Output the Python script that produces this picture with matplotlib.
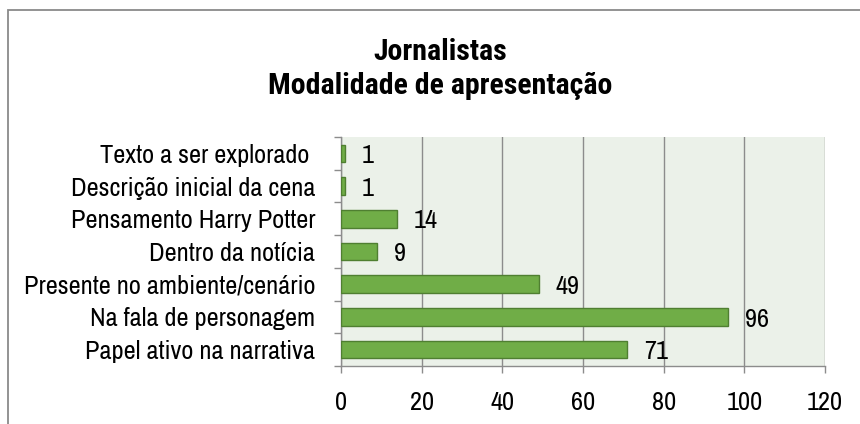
import matplotlib
matplotlib.use("Agg")
import matplotlib.pyplot as plt
from matplotlib import font_manager
from matplotlib.patches import Rectangle

# Data (top to bottom as shown in the chart)
categories = [
    "Texto a ser explorado ",
    "Descrição inicial da cena",
    "Pensamento Harry Potter",
    "Dentro da notícia",
    "Presente no ambiente/cenário",
    "Na fala de personagem",
    "Papel ativo na narrativa",
]
values = [1, 1, 14, 9, 49, 96, 71]
x_ticks = [0, 20, 40, 60, 80, 100, 120]

title_lines = ["Jornalistas", "Modalidade de apresentação"]


def first_font(candidates, fallback="Liberation Sans"):
    names = {f.name for f in font_manager.fontManager.ttflist}
    for cand in candidates:
        if cand in names:
            return cand
    return fallback


# Condensed Arial-like faces, first one available wins
FONT = first_font(["Liberation Sans Narrow", "Arial Narrow", "Archivo Narrow",
                   "Roboto Condensed", "PT Sans Narrow"])
TITLE_FONT = first_font(["Liberation Sans Narrow", "Arial Narrow", "Roboto Condensed",
                         "Asap Condensed", "Barlow Condensed"])
plt.rcParams["font.family"] = [FONT, "DejaVu Sans"]

BAR_COLOR = "#70AD47"
EDGE_COLOR = "#4F7F31"
PLOT_BG = "#EBF1E9"
GRID_COLOR = "#8C8C8C"
LABEL_SIZE = 19

fig = plt.figure(figsize=(8.6, 4.24), dpi=100)
fig.patch.set_facecolor("white")

# Outer chart border (only left and top fall inside the image)
fig.patches.append(Rectangle((8 / 860, -0.1), 1.2, 1 - 10 / 424 + 0.1,
                             transform=fig.transFigure, fill=False,
                             edgecolor="#8A8A8A", linewidth=1.3))

ax = fig.add_axes([341 / 860, 1 - 366 / 424, (825 - 341) / 860, (366 - 137) / 424])
ax.set_facecolor(PLOT_BG)

n = len(categories)
ypos = list(range(n - 1, -1, -1))
ax.barh(ypos, values, height=0.54, color=BAR_COLOR, edgecolor=EDGE_COLOR,
        linewidth=1.0, zorder=3)

for y, v in zip(ypos, values):
    ax.annotate(str(v), xy=(v, y), xytext=(12, -1.5), textcoords="offset points",
                ha="left", va="center", fontsize=LABEL_SIZE, color="black", zorder=4)

ax.set_xlim(0, 120)
ax.set_ylim(-0.5, n - 0.5)
ax.set_xticks(x_ticks)
ax.set_xticklabels([str(t) for t in x_ticks], fontsize=LABEL_SIZE)
ax.grid(axis="x", color=GRID_COLOR, linewidth=1.0, zorder=1)

# Category labels centered on bars, ticks on category boundaries
ax.set_yticks(ypos)
ax.set_yticklabels(categories, fontsize=LABEL_SIZE)
ax.tick_params(axis="y", length=0, pad=18.5)
ax.set_yticks([i - 0.5 for i in range(n + 1)], minor=True)
ax.tick_params(axis="y", which="minor", length=5, color=GRID_COLOR, width=1)
ax.tick_params(axis="x", length=5, color=GRID_COLOR, width=1, pad=13)

for side in ["top", "right"]:
    ax.spines[side].set_visible(False)
for side in ["left", "bottom"]:
    ax.spines[side].set_color(GRID_COLOR)
    ax.spines[side].set_linewidth(1.0)

for text, y_px in zip(title_lines, [60, 94]):
    fig.text(440 / 860, 1 - y_px / 424, text, ha="center", va="baseline",
             fontsize=21.5, fontweight="bold", family=[TITLE_FONT, "DejaVu Sans"])

fig.savefig("out.png", dpi=100)
